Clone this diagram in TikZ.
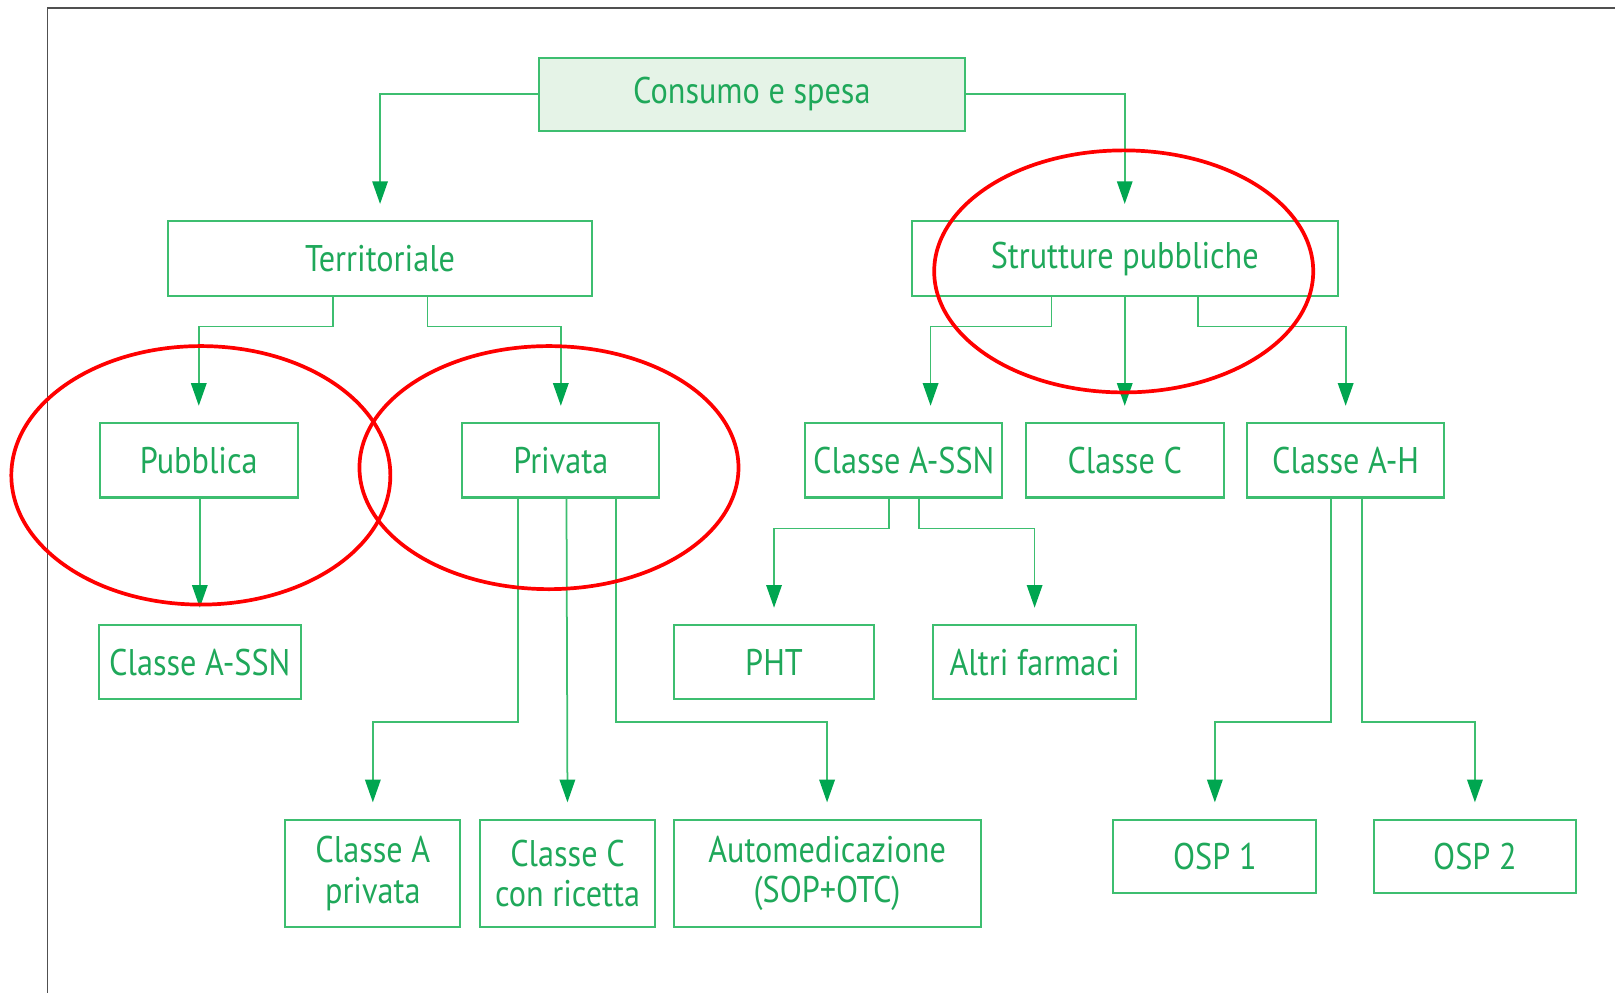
\documentclass[tikz,border=0pt]{standalone}
\usepackage{fontspec}
\setmainfont{PT Sans}[FakeStretch=0.87]
\usetikzlibrary{calc,arrows.meta}
\definecolor{gline}{HTML}{3DBE70}
\definecolor{gtext}{HTML}{1FA85A}
\definecolor{garrow}{HTML}{00A650}
\definecolor{gfill}{HTML}{E5F3E7}
\definecolor{framegray}{HTML}{505050}
\begin{document}
\begin{tikzpicture}[x=0.5pt,y=-0.5pt,
  box/.style={draw=gline,line width=1pt,text=gtext,font=\fontsize{18}{19.5}\selectfont,
    align=center,inner sep=0pt,anchor=center},
  link/.style={draw=gline,line width=0.85pt,-{Triangle[length=11pt,width=7.5pt,fill=garrow,color=garrow]},shorten >=8pt},
  ring/.style={draw=red,line width=1.8pt}]
\useasboundingbox (0,0) rectangle (1568,964);
% frame
\draw[framegray,line width=0.8pt] (46,964) -- (46,8) -- (1568,8);
% nodes
\node[box,fill=gfill,minimum width=207pt,minimum height=35.5pt] (cons) at (730,91.5) {Consumo e spesa};
\node[box,minimum width=206pt,minimum height=36pt] (terr) at (369,251) {Territoriale};
\node[box,minimum width=207pt,minimum height=36pt] (strut) at (1092,251) {Strutture pubbliche};
\node[box,minimum width=96pt,minimum height=36pt] (pub) at (193,447) {Pubblica};
\node[box,minimum width=95.5pt,minimum height=36pt] (priv) at (544.5,447) {Privata};
\node[box,minimum width=95.5pt,minimum height=36pt] (assnb) at (877.5,447) {Classe A-SSN};
\node[box,minimum width=96pt,minimum height=36pt] (cc) at (1092,447) {Classe C};
\node[box,minimum width=95.5pt,minimum height=36pt] (cah) at (1306.5,447) {Classe A-H};
\node[box,minimum width=98pt,minimum height=36pt] (assna) at (194,643) {Classe A-SSN};
\node[box,minimum width=97.5pt,minimum height=36pt] (pht) at (751.5,643) {PHT};
\node[box,minimum width=98.5pt,minimum height=36pt] (altri) at (1004.5,643) {Altri farmaci};
\node[box,minimum width=85pt,minimum height=52pt] (cap) at (362,848) {Classe A\\privata};
\node[box,minimum width=85pt,minimum height=52pt] (ccr) at (551,848) {Classe C\\con ricetta};
\node[box,minimum width=149pt,minimum height=52pt] (auto) at (803,848) {Automedicazione\\(SOP+OTC)};
\node[box,minimum width=98.5pt,minimum height=35.5pt] (osp1) at (1179.5,831.5) {OSP 1};
\node[box,minimum width=98pt,minimum height=35.5pt] (osp2) at (1432,831.5) {OSP 2};
% connectors
\draw[link] (cons.west) -| (terr.north);
\draw[link] (cons.east) -| (strut.north);
\draw[link] ($(terr.south)+(-46,0)$) -- ++(0,29) -| (pub.north);
\draw[link] ($(terr.south)+(46,0)$) -- ++(0,29) -| (priv.north);
\coordinate (assnin) at ($(assnb.north)+(26,0)$);
\draw[link] ($(strut.south)+(-71,0)$) -- ++(0,29) -| (assnin);
\draw[link] (strut.south) -- (cc.north);
\draw[link] ($(strut.south)+(71,0)$) -- ++(0,29) -| (cah.north);
\draw[link] ($(pub.south)+(1,0)$) -- ($(assna.north)$);
\draw[link] ($(assnb.south)+(-14.5,0)$) -- ++(0,29) -| (pht.north);
\draw[link] ($(assnb.south)+(14.5,0)$) -- ++(0,29) -| (altri.north);
\draw[link] ($(priv.south)+(-41.5,0)$) -- ++(0,217) -| (cap.north);
\draw[link] ($(priv.south)+(5.5,0)$) -- (ccr.north);
\draw[link] ($(priv.south)+(53.5,0)$) -- ++(0,217) -| (auto.north);
\draw[link] ($(cah.south)+(-14.5,0)$) -- ++(0,217) -| (osp1.north);
\draw[link] ($(cah.south)+(15.5,0)$) -- ++(0,217) -| (osp2.north);
% red ellipses
\draw[ring] (195,461.5) ellipse [x radius=184, y radius=125.5];
\draw[ring] (533,454) ellipse [x radius=184, y radius=118];
\draw[ring] (1091,263.5) ellipse [x radius=184, y radius=117.5];
\end{tikzpicture}
\end{document}
